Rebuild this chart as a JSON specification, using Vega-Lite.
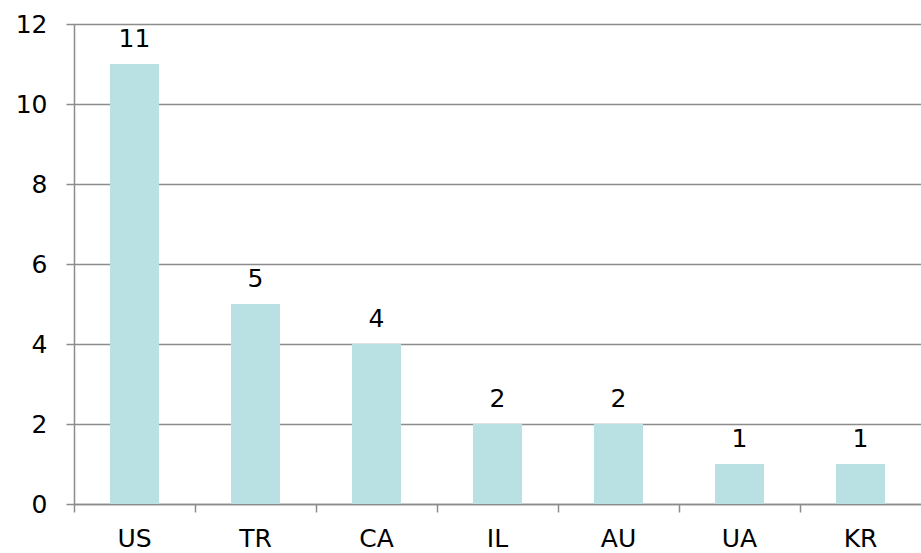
{
  "$schema": "https://vega.github.io/schema/vega-lite/v6.json",
  "width": 847,
  "height": 480,
  "autosize": {"type": "none"},
  "padding": {"left": 74, "top": 24, "right": 0, "bottom": 49},
  "background": "white",
  "config": {
    "view": {"stroke": null},
    "font": "DejaVu Sans"
  },
  "data": {
    "values": [
      {"country": "US", "count": 11},
      {"country": "TR", "count": 5},
      {"country": "CA", "count": 4},
      {"country": "IL", "count": 2},
      {"country": "AU", "count": 2},
      {"country": "UA", "count": 1},
      {"country": "KR", "count": 1}
    ]
  },
  "encoding": {
    "x": {
      "field": "country",
      "type": "nominal",
      "sort": null,
      "scale": {"paddingInner": 0, "paddingOuter": 0},
      "axis": {
        "title": null,
        "labelAngle": 0,
        "bandPosition": 0,
        "labelFont": "DejaVu Sans",
        "labelFontSize": 25,
        "labelColor": "#000000",
        "labelPadding": 14,
        "domainColor": "#8c8c8c",
        "domainWidth": 1.5,
        "tickColor": "#8c8c8c",
        "tickWidth": 1.5,
        "tickSize": 8,
        "grid": false
      }
    },
    "y": {
      "field": "count",
      "type": "quantitative",
      "scale": {"domain": [0, 12], "nice": false},
      "axis": {
        "title": null,
        "values": [0, 2, 4, 6, 8, 10, 12],
        "labelFont": "DejaVu Sans",
        "labelFontSize": 25,
        "labelColor": "#000000",
        "labelPadding": 19,
        "domainColor": "#8c8c8c",
        "domainWidth": 1.5,
        "tickColor": "#8c8c8c",
        "tickWidth": 1.5,
        "tickSize": 8,
        "grid": true,
        "gridColor": "#8c8c8c",
        "gridWidth": 1.5
      }
    }
  },
  "layer": [
    {
      "mark": {"type": "bar", "color": "#b9e0e3", "width": {"band": 0.405}}
    },
    {
      "mark": {"type": "text", "baseline": "alphabetic", "dy": -17, "fontSize": 25, "font": "DejaVu Sans", "color": "#000000"},
      "encoding": {"text": {"field": "count", "type": "quantitative"}}
    }
  ]
}
